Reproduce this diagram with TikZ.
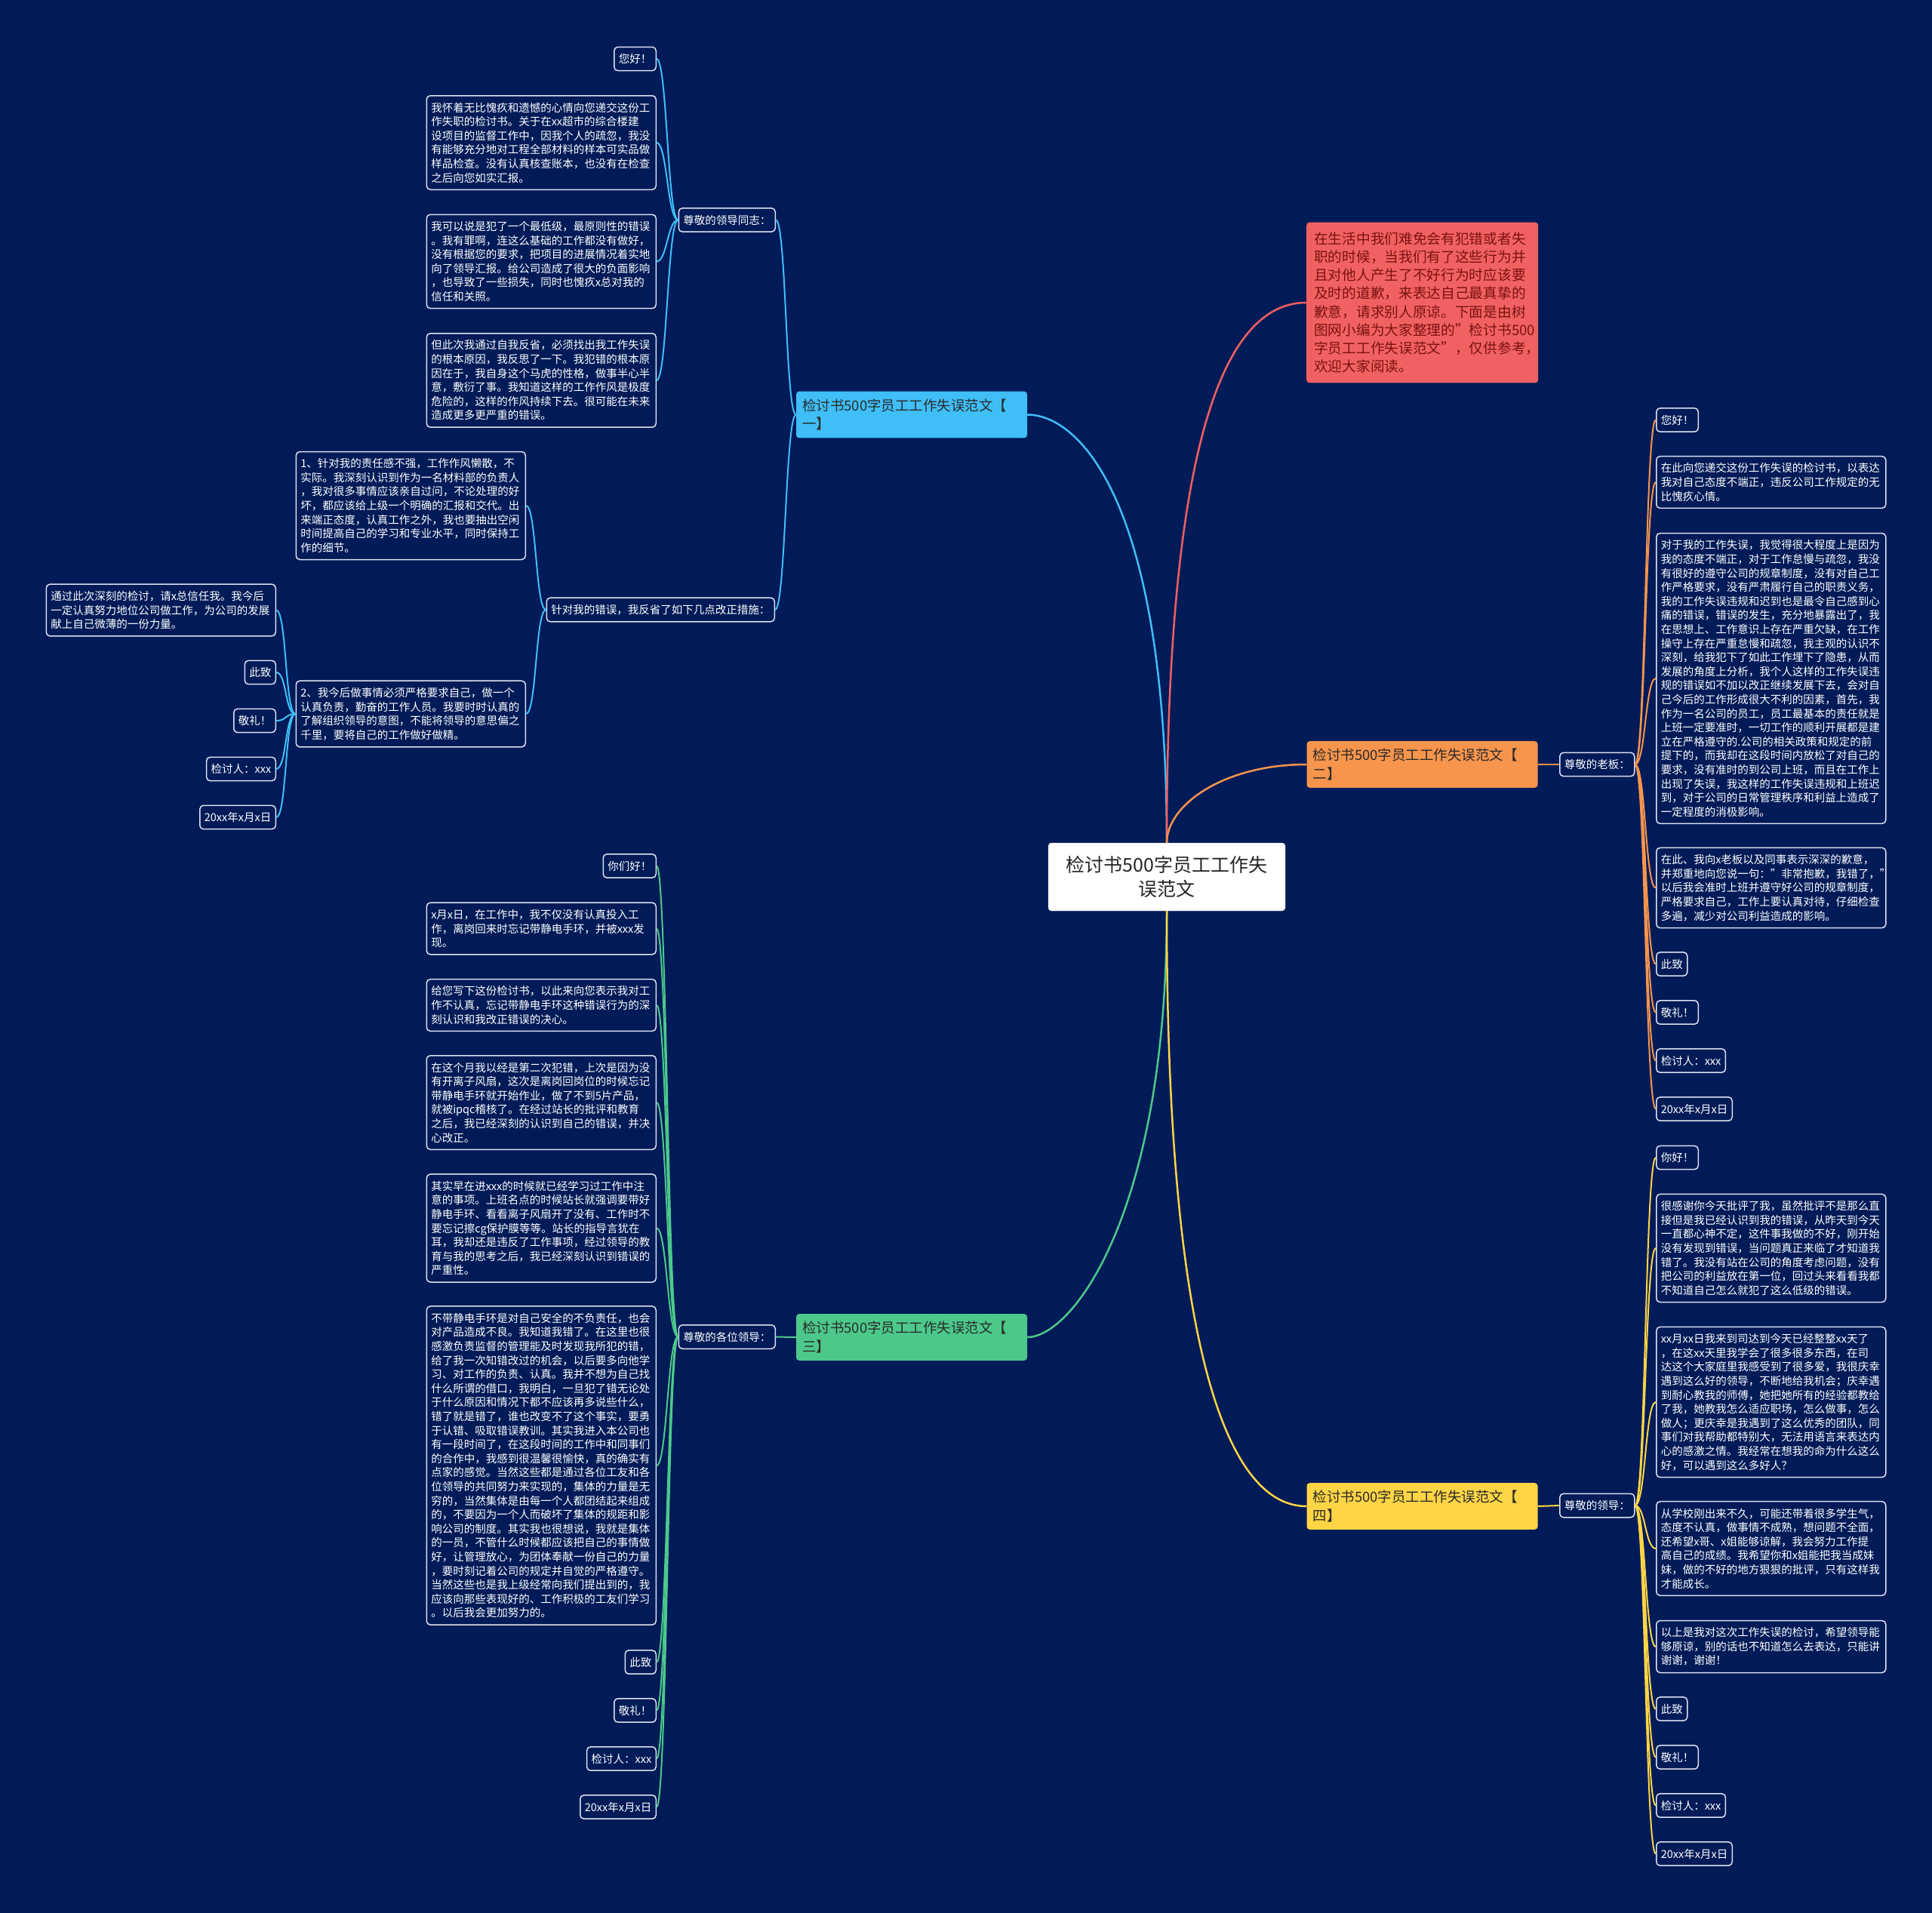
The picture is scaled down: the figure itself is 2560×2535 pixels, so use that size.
\documentclass[tikz,border=0pt]{standalone}
\usepackage{fontspec}
\setmainfont{Noto Sans CJK SC}
\definecolor{bg}{HTML}{011B58}
\definecolor{edge}{HTML}{DCE2F0}
\definecolor{blue1}{HTML}{3FBEF7}
\definecolor{red1}{HTML}{F26161}
\definecolor{orange1}{HTML}{F8954C}
\definecolor{green1}{HTML}{4CC98A}
\definecolor{yellow1}{HTML}{FFD545}
\definecolor{dark}{HTML}{2A2A2A}
\definecolor{redtext}{HTML}{7A1212}
\begin{document}
\begin{tikzpicture}[x=1pt, y=-1pt,
  leaf/.style={draw=edge, fill=bg, text=white, line width=1.5pt, rounded corners=5pt, inner xsep=6pt, inner ysep=9pt, align=left, font=\fontsize{14.5}{18.6}\selectfont},
  wide/.style={leaf, text width=292pt},
  branch/.style={fill=#1, text=dark, rounded corners=4pt, inner xsep=8pt, inner ysep=10pt, text width=290pt, align=left, font=\fontsize{18.5}{24.5}\selectfont},
  wire/.style={draw=#1, line width=2pt}]

\fill[bg] (0,0) rectangle (2560,2535);

\node[fill=white, draw=gray!60, rounded corners=4pt, text=black!85, minimum width=314pt, minimum height=90pt, align=center, font=\fontsize{25}{32.5}\selectfont] (root) at (1546,1162) {检讨书500字员工工作失\\误范文};

\node[fill=red1, text=redtext, rounded corners=4pt, text width=287pt, inner xsep=10pt, inner ysep=13pt, align=left, font=\fontsize{18.7}{24.2}\selectfont, anchor=west] (intro) at (1731,401)
{在生活中我们难免会有犯错或者失\\职的时候，当我们有了这些行为并\\且对他人产生了不好行为时应该要\\及时的道歉，来表达自己最真挚的\\歉意，请求别人原谅。下面是由树\\图网小编为大家整理的"检讨书500\\字员工工作失误范文"，仅供参考，\\欢迎大家阅读。};

\node[branch=blue1] (b1) at (1208,549.5) {检讨书500字员工工作失误范文【\\一】};
\node[branch=orange1] (b2) at (1884.5,1013) {检讨书500字员工工作失误范文【\\二】};
\node[branch=green1] (b3) at (1208,1772) {检讨书500字员工工作失误范文【\\三】};
\node[branch=yellow1] (b4) at (1884.5,1996) {检讨书500字员工工作失误范文【\\四】};

% branch one
\node[leaf, anchor=east] (s1a) at (1028,291.5) {尊敬的领导同志：};
\node[leaf, anchor=east] (l1) at (870,78) {您好！};
\node[wide, anchor=east] (l2) at (870,189) {我怀着无比愧疚和遗憾的心情向您递交这份工\\作失职的检讨书。关于在xx超市的综合楼建\\设项目的监督工作中，因我个人的疏忽，我没\\有能够充分地对工程全部材料的样本可实品做\\样品检查。没有认真核查账本，也没有在检查\\之后向您如实汇报。};
\node[wide, anchor=east] (l3) at (870,346.5) {我可以说是犯了一个最低级，最原则性的错误\\。我有罪啊，连这么基础的工作都没有做好，\\没有根据您的要求，把项目的进展情况着实地\\向了领导汇报。给公司造成了很大的负面影响\\，也导致了一些损失，同时也愧疚x总对我的\\信任和关照。};
\node[wide, anchor=east] (l4) at (870,504) {但此次我通过自我反省，必须找出我工作失误\\的根本原因，我反思了一下。我犯错的根本原\\因在于，我自身这个马虎的性格，做事半心半\\意，敷衍了事。我知道这样的工作作风是极度\\危险的，这样的作风持续下去。很可能在未来\\造成更多更严重的错误。};
\node[leaf, anchor=east] (s1b) at (1027,808) {针对我的错误，我反省了如下几点改正措施：};
\node[wide, anchor=east] (m1) at (697,670) {1、针对我的责任感不强，工作作风懒散，不\\实际。我深刻认识到作为一名材料部的负责人\\，我对很多事情应该亲自过问，不论处理的好\\坏，都应该给上级一个明确的汇报和交代。出\\来端正态度，认真工作之外，我也要抽出空闲\\时间提高自己的学习和专业水平，同时保持工\\作的细节。};
\node[wide, anchor=east] (m2) at (697,946) {2、我今后做事情必须严格要求自己，做一个\\认真负责，勤奋的工作人员。我要时时认真的\\了解组织领导的意图，不能将领导的意思偏之\\千里，要将自己的工作做好做精。};
\node[wide, anchor=east] (m3) at (366,808.5) {通过此次深刻的检讨，请x总信任我。我今后\\一定认真努力地位公司做工作，为公司的发展\\献上自己微薄的一份力量。};

% branch three
\node[leaf, anchor=east] (s3) at (1028,1771.5) {尊敬的各位领导：};
\node[leaf, anchor=east] (g1) at (870,1147.5) {你们好！};
\node[wide, anchor=east] (g2) at (870,1230.5) {x月x日，在工作中，我不仅没有认真投入工\\作，离岗回来时忘记带静电手环，并被xxx发\\现。};
\node[wide, anchor=east] (g3) at (870,1332) {给您写下这份检讨书，以此来向您表示我对工\\作不认真，忘记带静电手环这种错误行为的深\\刻认识和我改正错误的决心。};
\node[wide, anchor=east] (g4) at (870,1461) {在这个月我以经是第二次犯错，上次是因为没\\有开离子风扇，这次是离岗回岗位的时候忘记\\带静电手环就开始作业，做了不到5片产品，\\就被ipqc稽核了。在经过站长的批评和教育\\之后，我已经深刻的认识到自己的错误，并决\\心改正。};
\node[wide, anchor=east] (g5) at (870,1627.5) {其实早在进xxx的时候就已经学习过工作中注\\意的事项。上班名点的时候站长就强调要带好\\静电手环、看看离子风扇开了没有、工作时不\\要忘记擦cg保护膜等等。站长的指导言犹在\\耳，我却还是违反了工作事项，经过领导的教\\育与我的思考之后，我已经深刻认识到错误的\\严重性。};
\node[wide, anchor=east] (g6) at (870,1942) {不带静电手环是对自己安全的不负责任，也会\\对产品造成不良。我知道我错了。在这里也很\\感激负责监督的管理能及时发现我所犯的错，\\给了我一次知错改过的机会，以后要多向他学\\习、对工作的负责、认真。我并不想为自己找\\什么所谓的借口，我明白，一旦犯了错无论处\\于什么原因和情况下都不应该再多说些什么，\\错了就是错了，谁也改变不了这个事实，要勇\\于认错、吸取错误教训。其实我进入本公司也\\有一段时间了，在这段时间的工作中和同事们\\的合作中，我感到很温馨很愉快，真的确实有\\点家的感觉。当然这些都是通过各位工友和各\\位领导的共同努力来实现的，集体的力量是无\\穷的，当然集体是由每一个人都团结起来组成\\的，不要因为一个人而破坏了集体的规距和影\\响公司的制度。其实我也很想说，我就是集体\\的一员，不管什么时候都应该把自己的事情做\\好，让管理放心，为团体奉献一份自己的力量\\，要时刻记着公司的规定并自觉的严格遵守。\\当然这些也是我上级经常向我们提出到的，我\\应该向那些表现好的、工作积极的工友们学习\\。以后我会更加努力的。};

% branch two
\node[leaf, anchor=west] (s2) at (2066,1013) {尊敬的老板：};
\node[leaf, anchor=west] (r1) at (2194,556.5) {您好！};
\node[wide, anchor=west] (r2) at (2194,639) {在此向您递交这份工作失误的检讨书，以表达\\我对自己态度不端正，违反公司工作规定的无\\比愧疚心情。};
\node[wide, anchor=west] (r3) at (2194,899) {对于我的工作失误，我觉得很大程度上是因为\\我的态度不端正，对于工作怠慢与疏忽，我没\\有很好的遵守公司的规章制度，没有对自己工\\作严格要求，没有严肃履行自己的职责义务，\\我的工作失误违规和迟到也是最令自己感到心\\痛的错误，错误的发生，充分地暴露出了，我\\在思想上、工作意识上存在严重欠缺，在工作\\操守上存在严重怠慢和疏忽，我主观的认识不\\深刻，给我犯下了如此工作埋下了隐患，从而\\发展的角度上分析，我个人这样的工作失误违\\规的错误如不加以改正继续发展下去，会对自\\己今后的工作形成很大不利的因素，首先，我\\作为一名公司的员工，员工最基本的责任就是\\上班一定要准时，一切工作的顺利开展都是建\\立在严格遵守的.公司的相关政策和规定的前\\提下的，而我却在这段时间内放松了对自己的\\要求，没有准时的到公司上班，而且在工作上\\出现了失误，我这样的工作失误违规和上班迟\\到，对于公司的日常管理秩序和利益上造成了\\一定程度的消极影响。};
\node[wide, anchor=west] (r4) at (2194,1176.5) {在此、我向x老板以及同事表示深深的歉意，\\并郑重地向您说一句："非常抱歉，我错了，"\\以后我会准时上班并遵守好公司的规章制度，\\严格要求自己，工作上要认真对待，仔细检查\\多遍，减少对公司利益造成的影响。};

% branch four
\node[leaf, anchor=west] (s4) at (2066,1995) {尊敬的领导：};
\node[leaf, anchor=west] (y1) at (2194,1534) {你好！};
\node[wide, anchor=west] (y2) at (2194,1654) {很感谢你今天批评了我，虽然批评不是那么直\\接但是我已经认识到我的错误，从昨天到今天\\一直都心神不定，这件事我做的不好，刚开始\\没有发现到错误，当问题真正来临了才知道我\\错了。我没有站在公司的角度考虑问题，没有\\把公司的利益放在第一位，回过头来看看我都\\不知道自己怎么就犯了这么低级的错误。};
\node[wide, anchor=west] (y3) at (2194,1858) {xx月xx日我来到司达到今天已经整整xx天了\\，在这xx天里我学会了很多很多东西，在司\\达这个大家庭里我感受到了很多爱，我很庆幸\\遇到这么好的领导，不断地给我机会；庆幸遇\\到耐心教我的师傅，她把她所有的经验都教给\\了我，她教我怎么适应职场，怎么做事，怎么\\做人；更庆幸是我遇到了这么优秀的团队，同\\事们对我帮助都特别大，无法用语言来表达内\\心的感激之情。我经常在想我的命为什么这么\\好，可以遇到这么多好人？};
\node[wide, anchor=west] (y4) at (2194,2052) {从学校刚出来不久，可能还带着很多学生气，\\态度不认真，做事情不成熟，想问题不全面，\\还希望x哥、x姐能够谅解，我会努力工作提\\高自己的成绩。我希望你和x姐能把我当成妹\\妹，做的不好的地方狠狠的批评，只有这样我\\才能成长。};
\node[wide, anchor=west] (y5) at (2194,2182) {以上是我对这次工作失误的检讨，希望领导能\\够原谅，别的话也不知道怎么去表达，只能讲\\谢谢，谢谢！};

% closing lines of each letter
\foreach \g/\p/\a/\b/\d/\e/\x/\y/\c in {ta/m2/east/west/-14/14/366/891/blue1, tb/s3/east/west/-14/14/870/2202.5/green1, tc/s2/west/east/14/-14/2194/1277.5/orange1, td/s4/west/east/14/-14/2194/2264.5/yellow1}
{
    \foreach \t [count=\i] in {此致,敬礼！,检讨人：xxx,20xx年x月x日}
    {
        \node[leaf, anchor=\a] (\g\i) at (\x,{\y+64*(\i-1)}) {\t};
        \draw[wire=\c] (\p.\b) .. controls +(\d,0) and +(\e,0) .. (\g\i.\a);
    }
}

\draw[wire=blue1, line width=2.5pt] (root.north) .. controls +(0,-450) and +(70,0) .. (b1.east);
\draw[wire=red1, line width=2.5pt] (root.north) .. controls +(0,-560) and +(-100,0) .. (intro.west);
\draw[wire=orange1, line width=2.5pt] (root.north) .. controls +(0,-50) and +(-110,0) .. (b2.west);
\draw[wire=green1, line width=2.5pt] (root.south) .. controls +(0,400) and +(60,0) .. (b3.east);
\draw[wire=yellow1, line width=2.5pt] (root.south) .. controls +(0,600) and +(-100,0) .. (b4.west);

\foreach \n in {s1a,s1b}
    \draw[wire=blue1] (b1.west) .. controls +(-14,0) and +(14,0) .. (\n.east);
\foreach \n in {l1,l2,l3,l4}
    \draw[wire=blue1] (s1a.west) .. controls +(-14,0) and +(14,0) .. (\n.east);
\foreach \n in {m1,m2}
    \draw[wire=blue1] (s1b.west) .. controls +(-14,0) and +(14,0) .. (\n.east);
\draw[wire=blue1] (m2.west) .. controls +(-14,0) and +(14,0) .. (m3.east);

\draw[wire=green1] (b3.west) -- (s3.east);
\foreach \n in {g1,g2,g3,g4,g5,g6}
    \draw[wire=green1] (s3.west) .. controls +(-14,0) and +(14,0) .. (\n.east);

\draw[wire=orange1] (b2.east) -- (s2.west);
\foreach \n in {r1,r2,r3,r4}
    \draw[wire=orange1] (s2.east) .. controls +(14,0) and +(-14,0) .. (\n.west);

\draw[wire=yellow1] (b4.east) -- (s4.west);
\foreach \n in {y1,y2,y3,y4,y5}
    \draw[wire=yellow1] (s4.east) .. controls +(14,0) and +(-14,0) .. (\n.west);
\end{tikzpicture}
\end{document}
